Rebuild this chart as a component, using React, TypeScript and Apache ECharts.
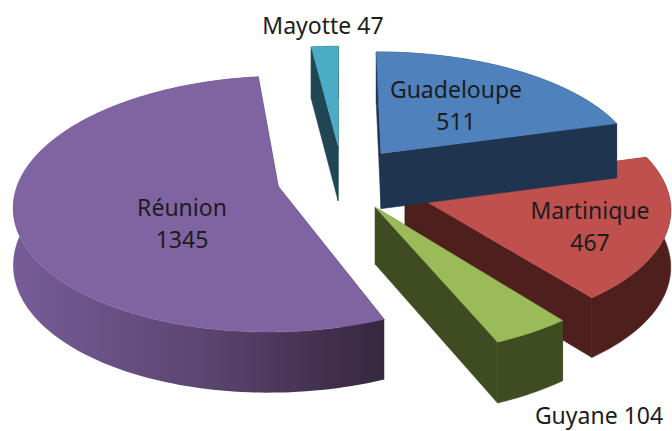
import React, { useEffect, useRef } from "react";
import * as echarts from "echarts";

const regions = ["Guadeloupe", "Martinique", "Guyane", "Réunion", "Mayotte"];
const counts = [511, 467, 104, 1345, 47];

const topColors = ["#4f81bd", "#c0504d", "#9bbb59", "#8064a2", "#4bacc6"];
const sideColors = ["#1f344f", "#4f1f1d", "#3f4c22", "#3a2c4a", "#1f4652"];
const explodeX = [42, 64, 34, -61, -2];
const explodeY = [49, -31, -69, -25, 67];
const radii = [261, 258, 258, 258, 265];
const radiusYScale = [1.02, 1.02, 1.02, 1.05, 1];
const paintOrder = [1, 3, 4, 2, 0];
const labelX = [456, 590, 599, 182, 323];
const labelY = [105, 226, 415, 223, 25];
const labelSep = ["\n", "\n", " ", "\n", " "];

const CX = 340, CY = 175, PERSP = 0.0005, TILT = 0.452, DEPTH = 56;
const FONT = '23px "Noto Sans", sans-serif';

const total = counts.reduce((a, b) => a + b, 0);
const project = (X: number, Y: number, down: boolean) => {
  const s = 1 / (1 + PERSP * Y);
  return [CX + X * s, CY - TILT * Y * s + (down ? DEPTH * Math.sqrt(s) : 0)];
};

const renderItem = (params: any, api: any) => {
  const i = params.dataIndex;
  const before = counts.slice(0, i).reduce((a, b) => a + b, 0);
  const a0 = (before / total) * 2 * Math.PI;
  const a1 = ((before + api.value(0)) / total) * 2 * Math.PI;
  const ax = explodeX[i], ay = explodeY[i], r = radii[i], ry = radii[i] * radiusYScale[i];
  const arc = (down: boolean) => {
    const pts: number[][] = [];
    const n = Math.max(4, Math.ceil((a1 - a0) / 0.02));
    for (let k = 0; k <= n; k++) {
      const t = a0 + ((a1 - a0) * k) / n;
      pts.push(project(ax + r * Math.sin(t), ay + ry * Math.cos(t), down));
    }
    return pts;
  };
  const top = arc(false), bottom = arc(true);
  const apexTop = project(ax, ay, false), apexBottom = project(ax, ay, true);
  const order = paintOrder.indexOf(i) * 10;
  const side = i === 3
    ? new echarts.graphic.LinearGradient(0, 0, 1, 0, [
        { offset: 0, color: "#775c98" },
        { offset: 0.5, color: "#5c4672" },
        { offset: 0.85, color: "#422f4e" },
        { offset: 1, color: "#342840" },
      ])
    : sideColors[i];
  const poly = (points: number[][], fill: any, z2: number) => ({
    type: "polygon",
    z2: order + z2,
    silent: true,
    shape: { points },
    style: { fill, stroke: typeof fill === "string" ? fill : null, lineWidth: 0.5 },
  });
  return {
    type: "group",
    children: [
      poly([apexTop, top[0], bottom[0], apexBottom], sideColors[i], 1),
      poly([apexTop, top[top.length - 1], bottom[bottom.length - 1], apexBottom], sideColors[i], 2),
      poly([...top, ...bottom.slice().reverse()], side, 3),
      poly([apexTop, ...top], topColors[i], 4),
      {
        type: "text",
        z2: 500,
        silent: true,
        style: {
          text: regions[i] + labelSep[i] + api.value(0),
          x: labelX[i],
          y: labelY[i],
          align: "center",
          verticalAlign: "middle",
          font: FONT,
          lineHeight: 32,
          fill: "#1c1c1c",
        },
      },
    ],
  };
};

export default function App() {
  const ref = useRef<HTMLDivElement>(null);
  useEffect(() => {
    document.body.style.margin = "0";
    const chart = echarts.init(ref.current!, null, { renderer: "svg" });
    chart.setOption({
      animation: false,
      backgroundColor: "#ffffff",
      series: [
        {
          type: "custom",
          coordinateSystem: "none",
          silent: true,
          renderItem,
          data: counts.map((v, i) => ({ name: regions[i], value: [v] })),
        },
      ],
    });
    return () => chart.dispose();
  }, []);
  return <div ref={ref} style={{ width: 672, height: 431 }} />;
}
